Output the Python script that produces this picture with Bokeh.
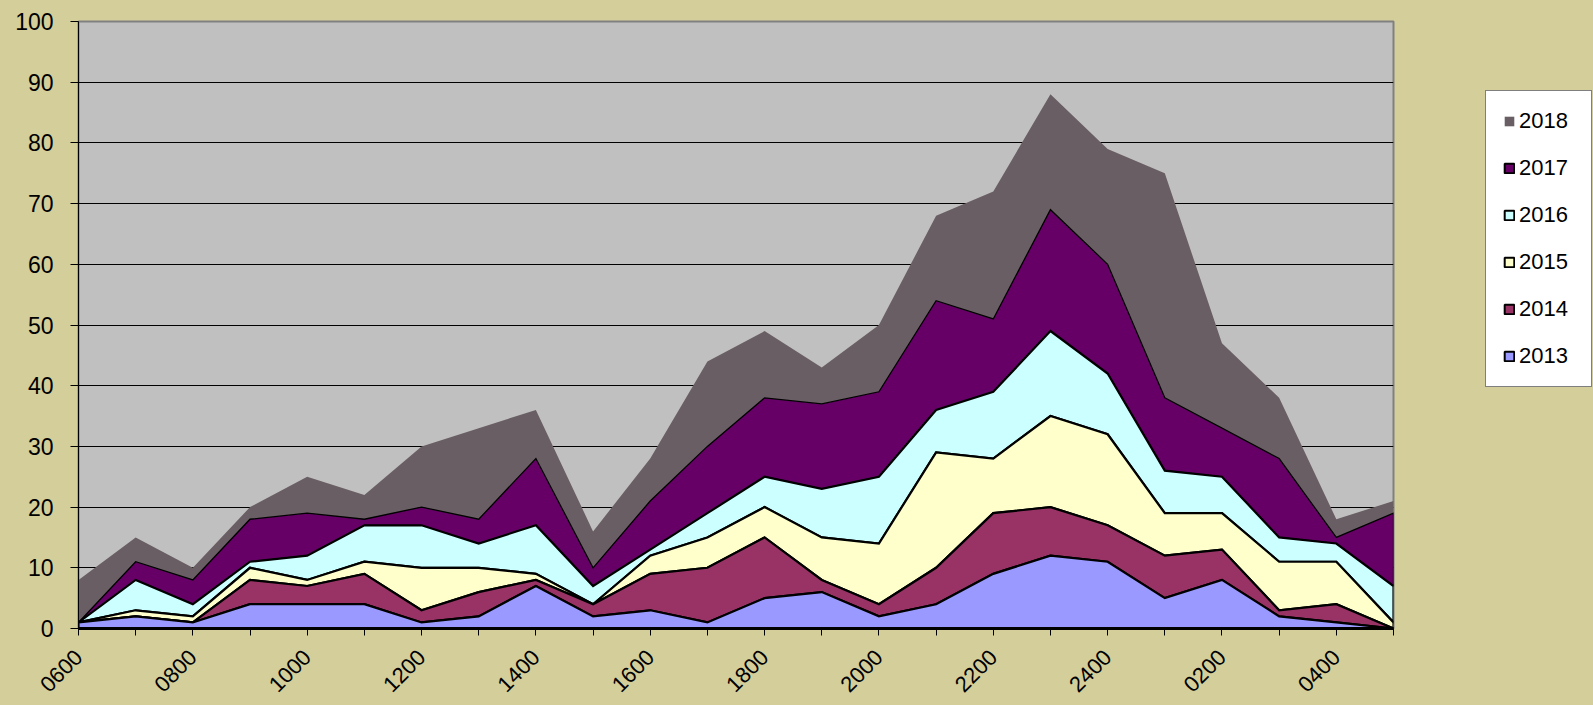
from math import pi
import numpy as np
from bokeh.plotting import figure
from bokeh.layouts import row
from bokeh.models import FixedTicker, Legend, LegendItem
from bokeh.embed import file_html
from bokeh.resources import INLINE

# ---- data -------------------------------------------------------------
hours = ["0600", "0700", "0800", "0900", "1000", "1100", "1200", "1300",
         "1400", "1500", "1600", "1700", "1800", "1900", "2000", "2100",
         "2200", "2300", "2400", "0100", "0200", "0300", "0400", "0500"]

years = ["2013", "2014", "2015", "2016", "2017", "2018"]

s2013 = [1, 2, 1, 4, 4, 4, 1, 2, 7, 2, 3, 1, 5, 6, 2, 4, 9, 12, 11, 5, 8, 2, 1, 0]
s2014 = [0, 0, 0, 4, 3, 5, 2, 4, 1, 2, 6, 9, 10, 2, 2, 6, 10, 8, 6, 7, 5, 1, 3, 0]
s2015 = [0, 1, 1, 2, 1, 2, 7, 4, 1, 0, 3, 5, 5, 7, 10, 19, 9, 15, 15, 7, 6, 8, 7, 1]
s2016 = [0, 5, 2, 1, 4, 6, 7, 4, 8, 3, 1, 4, 5, 8, 11, 7, 11, 14, 10, 7, 6, 4, 3, 6]
s2017 = [0, 3, 4, 7, 7, 1, 3, 4, 11, 3, 8, 11, 13, 14, 14, 18, 12, 20, 18, 12, 8, 13, 1, 12]
s2018 = [7, 4, 2, 2, 6, 4, 10, 15, 8, 6, 7, 14, 11, 6, 11, 14, 21, 19, 19, 37, 14, 10, 3, 2]

series = [s2013, s2014, s2015, s2016, s2017, s2018]

colors = ["#9999FF", "#993366", "#FFFFCC", "#CCFFFF", "#660066", "#695E63"]
y_ticks = list(range(0, 101, 10))

KHAKI = "#D3CE9A"
line_widths = [2.2, 2.2, 2.2, 2.2, 1.3, 0]

# ---- main chart -------------------------------------------------------
p = figure(width=1479, height=705, x_range=(0, len(hours) - 1), y_range=(0, 100),
           output_backend="svg", toolbar_location=None,
           min_border_left=78, min_border_right=86, min_border_top=21,
           min_border_bottom=77,
           background_fill_color="#C0C0C0", border_fill_color=KHAKI,
           outline_line_color="#808080", outline_line_width=2)

x = np.arange(len(hours))
cum = np.cumsum(np.array(series, dtype=float), axis=0)

for i in reversed(range(len(series))):
    top = cum[i]
    bottom = cum[i - 1] if i > 0 else np.zeros(len(hours))
    xs = np.concatenate([x, x[::-1]])
    ys = np.concatenate([top, bottom[::-1]])
    if line_widths[i] > 0:
        p.patch(xs, ys, fill_color=colors[i], line_color="black",
                line_width=line_widths[i], line_join="miter")
    else:
        p.patch(xs, ys, fill_color=colors[i], line_color=None)

p.xgrid.visible = False
p.ygrid.ticker = FixedTicker(ticks=y_ticks)
p.ygrid.grid_line_color = "black"
p.ygrid.grid_line_width = 1

p.yaxis.ticker = FixedTicker(ticks=y_ticks)
p.yaxis.axis_line_color = "black"
p.yaxis.axis_line_width = 1
p.yaxis.major_tick_out = 8
p.yaxis.major_tick_in = 0
p.yaxis.minor_tick_out = 0
p.yaxis.minor_tick_in = 0
p.yaxis.major_tick_line_color = "black"
p.yaxis.major_label_standoff = 17
p.yaxis.major_label_text_font = "Liberation Sans"
p.yaxis.major_label_text_font_size = "23px"
p.yaxis.major_label_text_color = "black"

p.xaxis.ticker = FixedTicker(ticks=list(range(len(hours))))
p.xaxis.major_label_overrides = {i: (hours[i] if i % 2 == 0 else "") for i in range(len(hours))}
p.xaxis.major_label_orientation = pi / 4
p.xaxis.axis_line_color = "black"
p.xaxis.axis_line_width = 3
p.xaxis.major_tick_out = 7
p.xaxis.major_tick_in = 0
p.xaxis.minor_tick_out = 0
p.xaxis.minor_tick_in = 0
p.xaxis.major_tick_line_color = "black"
p.xaxis.major_label_standoff = 18
p.xaxis.major_label_text_font = "Liberation Sans"
p.xaxis.major_label_text_font_size = "22px"
p.xaxis.major_label_text_color = "black"

# ---- legend panel (separate narrow figure to the right) ---------------
q = figure(width=114, height=705, x_range=(0, 1), y_range=(0, 1),
           output_backend="svg", toolbar_location=None,
           x_axis_type=None, y_axis_type=None, min_border=0,
           background_fill_color=KHAKI, border_fill_color=KHAKI,
           outline_line_color=None)
q.grid.visible = False

# legend swatches: patches placed outside the visible range of this panel
legend_renderers = {}
for i in range(len(series)):
    if line_widths[i] > 0:
        r = q.patch([5, 6, 6], [5, 5, 6], fill_color=colors[i], line_color="black", line_width=2)
    else:
        r = q.patch([5, 6, 6], [5, 5, 6], fill_color=colors[i], line_color=None)
    legend_renderers[i] = r

items = [LegendItem(label=years[i], renderers=[legend_renderers[i]])
         for i in reversed(range(len(series)))]
legend = Legend(items=items, location=(6, 241), orientation="vertical",
                border_line_color="black", border_line_width=1,
                background_fill_color="white", background_fill_alpha=1,
                label_text_font="Liberation Sans", label_text_font_size="22px",
                label_text_color="black",
                glyph_width=12, glyph_height=12, label_height=25, spacing=21,
                padding=17, label_standoff=4, label_width=55, margin=0)
q.add_layout(legend)

layout = row(p, q)

tpl = ("{% block postamble %}<style>html, body { background: " + KHAKI +
       "; }</style>{% endblock %}")
try:
    html = file_html(layout, INLINE, template=tpl)
except Exception:
    html = file_html(layout, INLINE)
open("out.html", "w").write(html)
